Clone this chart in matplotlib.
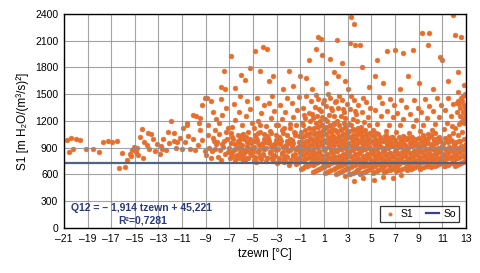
import matplotlib
matplotlib.use("Agg")
import matplotlib.pyplot as plt
import numpy as np

plt.rcParams['font.family'] = ['Liberation Sans Narrow', 'Liberation Sans', 'DejaVu Sans']

# --- S1 points: t_zewn [degC], S1 [m H2O/(m3/s)2] ---
cold_t = [-20.7, -20.4, -20.0, -19.6, -20.6, -20.2, -19.1, -18.5, -18.0, -17.7,
          -17.3, -16.9, -16.5, -16.1, -16.3, -15.8, -15.7, -15.4, -15.2, -15.0,
          -14.9, -14.7, -14.6, -14.4, -14.2, -14.0, -13.8, -13.6, -13.3, -13.1,
          -12.8, -12.6, -12.4, -12.1, -11.9, -11.7, -11.5, -11.2, -11.0, -10.8,
          -10.6, -10.3, -10.1, -9.9, -9.7, -9.5, -9.3, -9.1, -15.3, -14.8,
          -13.9, -12.9, -12.2, -11.4, -10.5, -9.8, -15.1, -14.3, -13.5, -12.7,
          -10.1, -9.5, -10.6, -11.7, -9.1, -9.3, -10.9, -9.6]
cold_v = [990, 1010, 1000, 990, 855, 880, 890, 885, 850, 965,
          980, 965, 975, 845, 675, 685, 760, 830, 870, 900,
          850, 820, 1025, 1110, 960, 930, 880, 1050, 860, 940,
          920, 1000, 870, 950, 1200, 980, 900, 1010, 890, 960,
          1150, 880, 1000, 870, 930, 1100, 990, 860, 805, 895,
          1060, 830, 1080, 960, 1030, 1250, 910, 780, 1000, 880,
          1267, 1233, 1177, 1065, 1457, 1380, 1120, 1180]

band_t = [-8.95, -8.7, -8.5, -8.3, -8.1, -8.85, -8.6, -8.4, -8.2, -8.05,
          -7.95, -7.8, -7.6, -7.4, -7.2, -7.05, -7.9, -7.7, -7.5, -7.3, -7.15, -7.55,
          -6.95, -6.75, -6.55, -6.35, -6.15, -6.9, -6.7, -6.5, -6.3, -6.1, -6.85, -6.45, -6.25, -6.05,
          -5.95, -5.75, -5.55, -5.35, -5.15, -5.9, -5.7, -5.5, -5.3, -5.1, -5.85, -5.65, -5.45, -5.25, -5.05, -5.6,
          -4.95, -4.8, -4.6, -4.4, -4.2, -4.05, -4.9, -4.7, -4.5, -4.3, -4.1, -4.85, -4.65, -4.45, -4.25, -4.15, -4.55, -4.75,
          -3.95, -3.8, -3.6, -3.4, -3.2, -3.05, -3.9, -3.7, -3.5, -3.3, -3.1, -3.85, -3.65, -3.45, -3.25, -3.15, -3.55, -3.75,
          -2.95, -2.8, -2.6, -2.4, -2.2, -2.05, -2.9, -2.7, -2.5, -2.3, -2.1, -2.85, -2.65, -2.45, -2.25, -2.15, -2.55, -2.75, -2.35, -2.0,
          -1.95, -1.8, -1.6, -1.4, -1.2, -1.05, -1.9, -1.7, -1.5, -1.3, -1.1, -1.85, -1.65, -1.45, -1.25, -1.15, -1.55, -1.75, -1.35, -1.0, -1.9, -1.5,
          -6.85, -6.6, -6.4, -6.2, -6.05, -6.75, -6.5, -6.3, -6.1, -6.9,
          -5.85, -5.6, -5.4, -5.2, -5.05, -5.75, -5.5, -5.3, -5.1, -5.95,
          -4.85, -4.6, -4.4, -4.2, -4.05, -4.75, -4.5, -4.3, -4.1, -4.95,
          -3.85, -3.6, -3.4, -3.2, -3.05, -3.75, -3.5, -3.3, -3.1, -3.95,
          -2.85, -2.6, -2.4, -2.2, -2.05, -2.75, -2.5, -2.3, -2.1, -2.95,
          -1.85, -1.6, -1.4, -1.2, -1.05, -1.75, -1.5, -1.3, -1.1, -1.95]
band_v = [820, 900, 860, 980, 940, 1040, 790, 1010, 880, 960,
          800, 870, 940, 830, 1000, 900, 1050, 760, 980, 1080, 850, 910,
          780, 830, 760, 900, 850, 950, 1000, 880, 1040, 930, 1060, 800, 980, 820,
          770, 840, 790, 880, 820, 930, 870, 960, 1000, 900, 1050, 760, 1080, 990, 850, 1020,
          760, 800, 850, 780, 830, 880, 910, 960, 870, 940, 1000, 1040, 990, 1080, 920, 820, 1060, 740,
          750, 790, 840, 770, 820, 870, 900, 950, 860, 930, 990, 1030, 980, 1070, 910, 810, 1090, 1010,
          730, 780, 830, 760, 810, 860, 890, 940, 850, 920, 980, 1020, 970, 1060, 900, 800, 1100, 1000, 740, 950,
          710, 760, 810, 740, 790, 840, 870, 920, 830, 900, 960, 1000, 950, 1040, 880, 780, 1080, 980, 720, 930, 1120, 1060,
          800, 870, 820, 960, 900, 1020, 940, 790, 1000, 850,
          800, 860, 780, 950, 890, 1000, 920, 840, 980, 1040,
          790, 860, 810, 950, 890, 1010, 930, 770, 1050, 980,
          780, 850, 800, 940, 880, 1000, 920, 760, 1040, 960,
          760, 840, 790, 930, 870, 990, 910, 750, 1040, 950,
          740, 820, 770, 910, 860, 990, 890, 730, 1030, 950]

core_t = [-0.96, -0.63, -0.3, -0.07, -0.82, -0.48, -0.15, -0.91, -0.56, -0.24, -0.73, -0.39, -0.04,
          -0.87, -0.51, -0.18, -0.68, -0.33, -0.99, -0.6, -0.27, -0.78, -0.43, -0.11, -0.89, -0.54,
          0.04, 0.37, 0.70, 0.93, 0.18, 0.52, 0.85, 0.09, 0.44, 0.76, 0.27, 0.61, 0.96, 0.13, 0.49,
          0.82, 0.32, 0.67, 0.01, 0.40, 0.73, 0.22, 0.57, 0.89, 0.11, 0.46, 0.79, 0.29, 0.64, 0.97,
          1.10, 1.45, 1.80, 1.02, 1.30, 1.62, 1.91, 1.16, 1.51, 1.86, 1.24, 1.58, 1.94, 1.07, 1.39,
          1.72, 1.19, 1.55, 1.88, 1.34, 1.69, 1.03, 1.42, 1.77, 1.14, 1.48, 1.83, 1.26, 1.60, 1.95,
          2.04, 2.37, 2.70, 2.93, 2.18, 2.52, 2.85, 2.09, 2.44, 2.76, 2.27, 2.61, 2.96, 2.13, 2.49,
          2.82, 2.32, 2.67, 2.01, 2.40, 2.73, 2.22, 2.57, 2.89, 2.11, 2.46, 2.79, 2.29, 2.64, 2.97,
          3.10, 3.45, 3.80, 3.02, 3.30, 3.62, 3.91, 3.16, 3.51, 3.86, 3.24, 3.58, 3.94, 3.07, 3.39,
          3.72, 3.19, 3.55, 3.88, 3.34, 3.69, 3.03, 3.42, 3.77, 3.14, 3.48, 3.83, 3.26, 3.60, 3.95,
          4.04, 4.37, 4.70, 4.93, 4.18, 4.52, 4.85, 4.09, 4.44, 4.76, 4.27, 4.61, 4.96, 4.13,
          4.49, 4.82, 4.32, 4.67, 4.01, 4.40, 4.73, 4.22, 4.57, 4.89, 4.11, 4.46, 4.79, 4.29,
          5.10, 5.45, 5.80, 5.02, 5.30, 5.62, 5.91, 5.16, 5.51, 5.86, 5.24, 5.58, 5.94,
          5.07, 5.39, 5.72, 5.19, 5.55, 5.88, 5.34, 5.69, 5.03, 5.42, 5.77, 5.14, 5.48,
          6.04, 6.37, 6.70, 6.93, 6.18, 6.52, 6.85, 6.09, 6.44, 6.76, 6.27, 6.61, 6.96,
          6.13, 6.49, 6.82, 6.32, 6.67, 6.01, 6.40, 6.73, 6.22, 6.57, 6.89, 6.11, 6.46,
          7.10, 7.45, 7.80, 7.02, 7.30, 7.62, 7.91, 7.16, 7.51, 7.86, 7.24, 7.58, 7.94,
          7.07, 7.39, 7.72, 7.19, 7.55, 7.88, 7.34, 7.69, 7.03, 7.42, 7.77, 7.14, 7.48,
          8.04, 8.37, 8.70, 8.93, 8.18, 8.52, 8.85, 8.09, 8.44, 8.76, 8.27, 8.61, 8.96,
          8.13, 8.49, 8.82, 8.32, 8.67, 8.01, 8.40, 8.73, 8.22, 8.57, 8.89, 8.11, 8.46,
          9.10, 9.45, 9.80, 9.02, 9.30, 9.62, 9.91, 9.16, 9.51, 9.86, 9.24, 9.58,
          9.94, 9.07, 9.39, 9.72, 9.19, 9.55, 9.88, 9.34, 9.69, 9.03, 9.42, 9.77,
          10.04, 10.37, 10.70, 10.93, 10.18, 10.52, 10.85, 10.09, 10.44, 10.76, 10.27,
          10.61, 10.96, 10.13, 10.49, 10.82, 10.32, 10.67, 10.01, 10.40, 10.73, 10.22,
          11.10, 11.45, 11.80, 11.02, 11.30, 11.62, 11.91, 11.16, 11.51, 11.86,
          11.24, 11.58, 11.94, 11.07, 11.39, 11.72, 11.19, 11.55, 11.88, 11.34,
          12.04, 12.37, 12.70, 12.93, 12.18, 12.52, 12.85, 12.09, 12.44,
          12.76, 12.27, 12.61, 12.96, 12.13, 12.49, 12.82, 12.32, 12.67]
core_v = [660, 690, 710, 740, 760, 780, 800, 825, 850, 870, 890, 915, 940,
          960, 980, 1005, 1030, 1055, 1080, 1100, 1125, 1150, 700, 820, 930, 1040,
          630, 650, 670, 700, 720, 740, 760, 780, 800, 820, 840, 860, 880, 900, 920,
          940, 960, 980, 1000, 1020, 1040, 1060, 1080, 1100, 1120, 1140, 1160, 1180, 1200, 690,
          615, 640, 660, 685, 705, 725, 745, 770, 790, 810, 830, 855, 875, 895, 915,
          940, 960, 980, 1000, 1025, 1045, 1065, 1090, 1110, 1130, 1150, 1175, 1200, 880, 760,
          600, 625, 650, 670, 690, 710, 730, 750, 770, 790, 810, 830, 850, 870, 890,
          910, 930, 950, 970, 990, 1010, 1030, 1050, 1070, 1090, 1110, 1130, 1150, 1180, 820,
          600, 620, 645, 665, 685, 705, 725, 745, 765, 785, 805, 825, 845, 865, 885,
          905, 925, 945, 965, 985, 1005, 1025, 1045, 1065, 1085, 1105, 1125, 1150, 760, 900,
          610, 630, 650, 670, 690, 710, 730, 750, 770, 790, 810, 830, 850, 870,
          890, 910, 930, 950, 970, 990, 1010, 1030, 1050, 1070, 1090, 1100, 700, 880,
          620, 640, 660, 680, 700, 720, 740, 760, 780, 800, 820, 840, 860,
          880, 900, 920, 940, 960, 980, 1000, 1020, 1040, 1060, 700, 850, 950,
          630, 645, 665, 685, 705, 725, 745, 765, 785, 805, 825, 845, 865,
          885, 905, 925, 945, 965, 985, 1005, 1025, 1040, 690, 810, 900, 980,
          640, 655, 675, 695, 715, 735, 755, 775, 795, 815, 835, 855, 875,
          895, 915, 935, 955, 975, 995, 1015, 1030, 700, 760, 870, 940, 1000,
          650, 665, 685, 705, 725, 745, 765, 785, 805, 825, 845, 865, 885,
          905, 925, 945, 965, 985, 1005, 1020, 700, 780, 860, 940, 1010, 680,
          660, 680, 700, 720, 740, 760, 780, 800, 820, 840, 860, 880,
          900, 920, 940, 960, 980, 1000, 1020, 1040, 720, 850, 930, 1010,
          680, 700, 720, 740, 760, 780, 800, 820, 840, 860, 880,
          900, 920, 940, 960, 980, 1000, 1020, 1040, 1060, 750, 910,
          690, 710, 730, 750, 770, 790, 810, 830, 850, 870,
          890, 910, 930, 950, 970, 990, 1010, 1030, 1060, 800,
          700, 720, 740, 760, 780, 800, 820, 840, 860,
          880, 900, 920, 940, 960, 980, 1000, 1040, 1080]

# second layer of the dense cloud (points lying between the first layer)
core2_t = [-0.8, -0.45, -0.12, -0.95, -0.62, -0.28, -0.76, -0.41, -0.06, -0.9, -0.57, -0.22, -0.7, -0.35, -0.02, -0.84, -0.5, -0.17,
           0.2, 0.55, 0.88, 0.06, 0.35, 0.7, 0.15, 0.48, 0.82, 0.25, 0.6, 0.95, 0.1, 0.42, 0.78, 0.3, 0.65, 0.02, 0.38, 0.74, 0.18, 0.52, 0.9, 0.08, 0.45, 0.8,
           1.22, 1.57, 1.9, 1.05, 1.37, 1.72, 1.13, 1.5, 1.84, 1.27, 1.63, 1.97, 1.09, 1.44, 1.8, 1.32, 1.67, 1.01, 1.4, 1.75, 1.2, 1.54, 1.92, 1.06, 1.47, 1.82,
           2.2, 2.55, 2.88, 2.06, 2.35, 2.7, 2.15, 2.48, 2.82, 2.25, 2.6, 2.95, 2.1, 2.42, 2.78, 2.3, 2.65, 2.02, 2.38, 2.74, 2.18, 2.52, 2.9, 2.08, 2.45, 2.8,
           3.22, 3.57, 3.9, 3.05, 3.37, 3.72, 3.13, 3.5, 3.84, 3.27, 3.63, 3.97, 3.09, 3.44, 3.8, 3.32, 3.67, 3.01, 3.4, 3.75, 3.2, 3.54, 3.92, 3.06, 3.47, 3.82,
           4.2, 4.55, 4.88, 4.06, 4.35, 4.7, 4.15, 4.48, 4.82, 4.25, 4.6, 4.95, 4.1, 4.42, 4.78, 4.3, 4.65, 4.02, 4.38, 4.74, 4.18, 4.52, 4.9, 4.08,
           5.22, 5.57, 5.9, 5.05, 5.37, 5.72, 5.13, 5.5, 5.84, 5.27, 5.63, 5.97, 5.09, 5.44, 5.8, 5.32, 5.67, 5.01, 5.4, 5.75, 5.2, 5.54,
           6.2, 6.55, 6.88, 6.06, 6.35, 6.7, 6.15, 6.48, 6.82, 6.25, 6.6, 6.95, 6.1, 6.42, 6.78, 6.3, 6.65, 6.02, 6.38, 6.74, 6.18, 6.52,
           7.22, 7.57, 7.9, 7.05, 7.37, 7.72, 7.13, 7.5, 7.84, 7.27, 7.63, 7.97, 7.09, 7.44, 7.8, 7.32, 7.67, 7.01, 7.4, 7.75, 7.2, 7.54,
           8.2, 8.55, 8.88, 8.06, 8.35, 8.7, 8.15, 8.48, 8.82, 8.25, 8.6, 8.95, 8.1, 8.42, 8.78, 8.3, 8.65, 8.02, 8.38, 8.74, 8.18, 8.52,
           9.22, 9.57, 9.9, 9.05, 9.37, 9.72, 9.13, 9.5, 9.84, 9.27, 9.63, 9.97, 9.09, 9.44, 9.8, 9.32, 9.67, 9.01, 9.4, 9.75,
           10.2, 10.55, 10.88, 10.06, 10.35, 10.7, 10.15, 10.48, 10.82, 10.25, 10.6, 10.95, 10.1, 10.42, 10.78, 10.3, 10.65, 10.02,
           11.22, 11.57, 11.9, 11.05, 11.37, 11.72, 11.13, 11.5, 11.84, 11.27, 11.63, 11.97, 11.09, 11.44, 11.8, 11.32,
           12.2, 12.55, 12.88, 12.06, 12.35, 12.7, 12.15, 12.48, 12.82, 12.25, 12.6, 12.95, 12.1, 12.42]
core2_v = [675, 700, 725, 750, 770, 795, 815, 840, 860, 880, 905, 930, 950, 970, 995, 1020, 1045, 1070,
           640, 660, 685, 705, 730, 750, 770, 790, 810, 830, 850, 870, 890, 910, 930, 950, 970, 990, 1010, 1030, 1050, 1070, 1090, 1110, 1130, 1160,
           625, 650, 672, 695, 715, 735, 758, 780, 800, 820, 842, 865, 885, 905, 928, 950, 970, 990, 1012, 1035, 1055, 1078, 1100, 1120, 1140, 1165,
           612, 638, 660, 680, 700, 720, 740, 760, 780, 800, 820, 840, 860, 880, 900, 920, 940, 960, 980, 1000, 1020, 1040, 1060, 1080, 1100, 1120,
           610, 632, 655, 675, 695, 715, 735, 755, 775, 795, 815, 835, 855, 875, 895, 915, 935, 955, 975, 995, 1015, 1035, 1055, 1075, 1095, 1115,
           620, 640, 660, 680, 700, 720, 740, 760, 780, 800, 820, 840, 860, 880, 900, 920, 940, 960, 980, 1000, 1020, 1040, 1060, 1080,
           630, 650, 670, 690, 710, 730, 750, 770, 790, 810, 830, 850, 870, 890, 910, 930, 950, 970, 990, 1010, 1030, 1050,
           638, 655, 675, 695, 715, 735, 755, 775, 795, 815, 835, 855, 875, 895, 915, 935, 955, 975, 995, 1015, 1030, 1010,
           648, 665, 685, 705, 725, 745, 765, 785, 805, 825, 845, 865, 885, 905, 925, 945, 965, 985, 1005, 1020, 680, 990,
           658, 675, 695, 715, 735, 755, 775, 795, 815, 835, 855, 875, 895, 915, 935, 955, 975, 995, 1012, 1000, 690, 970,
           670, 690, 710, 730, 750, 770, 790, 810, 830, 850, 870, 890, 910, 930, 950, 970, 990, 1010, 1030, 1050,
           690, 710, 730, 750, 770, 790, 810, 830, 850, 870, 890, 910, 930, 950, 970, 990, 1010, 1030,
           700, 720, 740, 760, 780, 800, 820, 840, 860, 880, 900, 920, 940, 960, 980, 1000,
           710, 730, 750, 770, 790, 810, 830, 850, 870, 890, 910, 930, 950, 970]

upper_t = [-8.8, -8.4, -8.1, -8.6, -8.2, -7.9, -7.6, -7.3, -7.7, -7.1, -7.4,
           -6.8, -6.5, -6.2, -6.6, -6.1, -5.9, -5.6, -5.3, -5.1, -5.5,
           -4.9, -4.6, -4.3, -4.1, -4.7, -4.4, -3.9, -3.5, -3.2, -3.7, -3.1, -3.4,
           -2.9, -2.6, -2.3, -2.7, -2.1, -2.4, -1.9, -1.6, -1.3, -1.7, -1.1, -1.4,
           -0.9, -0.6, -0.3, -0.8, -0.1, -0.5, -0.2, -0.7,
           0.1, 0.4, 0.7, 0.2, 0.9, 0.5, 0.3, 0.8, 0.6, 0.0,
           1.1, 1.4, 1.7, 1.2, 1.9, 1.5, 1.3, 1.8, 1.6, 1.0,
           2.1, 2.4, 2.7, 2.2, 2.9, 2.5, 2.3, 2.8, 2.6, 2.0,
           3.1, 3.4, 3.7, 3.2, 3.9, 3.5, 3.3, 3.8, 3.6,
           4.1, 4.4, 4.7, 4.2, 4.9, 4.5, 4.3, 4.8,
           5.1, 5.5, 5.8, 5.3, 5.9, 5.6, 6.2, 6.5, 6.8, 6.3, 6.9, 6.6,
           7.1, 7.4, 7.7, 7.2, 7.9, 7.5, 8.2, 8.5, 8.8, 8.3, 8.9, 8.6,
           9.1, 9.4, 9.7, 9.2, 9.9, 9.5, 10.1, 10.4, 10.7, 10.2, 10.9, 10.5,
           11.1, 11.4, 11.7, 11.2, 11.9, 11.5, 11.8,
           12.1, 12.4, 12.7, 12.9, 12.2, 12.5, 12.8, 12.3, 12.6, 12.95, 12.45, 12.85, 12.65, 12.35,
           12.55, 12.75, 12.9, 12.4, 12.7, 12.2]
upper_v = [1150, 1300, 1220, 1420, 1100, 1180, 1270, 1350, 1450, 1120, 1560,
           1130, 1210, 1300, 1390, 1480, 1150, 1250, 1330, 1180, 1420,
           1120, 1200, 1290, 1380, 1460, 1150, 1140, 1230, 1310, 1400, 1160, 1480,
           1150, 1220, 1300, 1380, 1460, 1120, 1170, 1240, 1320, 1400, 1470, 1150,
           1180, 1230, 1290, 1350, 1420, 1480, 1200, 1270,
           1230, 1260, 1310, 1360, 1400, 1450, 1490, 1240, 1330, 1280,
           1220, 1270, 1320, 1370, 1410, 1460, 1500, 1250, 1340, 1430,
           1200, 1250, 1300, 1350, 1390, 1440, 1480, 1230, 1330, 1420,
           1170, 1220, 1280, 1330, 1380, 1430, 1480, 1200, 1310,
           1130, 1190, 1240, 1300, 1350, 1410, 1460, 1160,
           1100, 1170, 1250, 1320, 1400, 1470, 1090, 1160, 1240, 1310, 1380, 1450,
           1080, 1150, 1220, 1290, 1360, 1440, 1070, 1140, 1210, 1280, 1350, 1430,
           1090, 1160, 1230, 1300, 1370, 1450, 1100, 1170, 1240, 1310, 1380, 1460,
           1110, 1180, 1250, 1320, 1390, 1460, 1140,
           1120, 1170, 1220, 1260, 1300, 1340, 1380, 1420, 1460, 1500, 1250, 1180, 1420, 1530,
           1190, 1300, 1350, 1390, 1480, 1400]

high_t = [-8.9, -7.7, -7.5, -6.9, -6.0, -5.7, -5.3, -4.8, -4.2, -3.8, -4.4, -3.7, -3.3,
          -2.0, -1.6, -0.3, 0.5, 0.3, 0.8, -0.5, 0.7, 3.3, 3.5, 2.1, 3.2, 3.6,
          9.3, 9.9, 11.9, 12.1, 12.6, 9.8, 10.8, 11.0, 6.3, 7.0, 7.7, 8.5,
          -2.5, -1.0, 1.2, 1.8, 2.5, 2.8, 4.2, 4.8, 5.3, 6.0, 7.4, 8.1, 9.0,
          10.2, 11.5, 12.3, 12.8, 1.5, 4.0, 5.5, 0.0, -6.5, 3.0, 2.2]
high_v = [1454, 1577, 1760, 1932, 1715, 1659, 1794, 1985, 2033, 2003, 1764, 1648, 1707,
          1760, 1592, 1883, 2141, 2006, 1939, 1681, 2120, 2370, 2287, 2107, 2073, 2051,
          2182, 2186, 2383, 2163, 2145, 2051, 1921, 1883, 1980, 1996, 1962, 1996,
          1560, 1700, 1620, 1750, 1850, 1650, 1800, 1580, 1700, 1620, 1560, 1700, 1620,
          1560, 1650, 1750, 1600, 1900, 2050, 1880, 1560, 1570, 1560, 1700]

low_t = [3.5, 4.3, 5.2, 6.0, 6.8, 2.8, 7.5]
low_v = [530, 560, 540, 575, 555, 580, 590]

so_level = 730
x_ticks = list(range(-21, 14, 2))
y_ticks = list(range(0, 2401, 300))

s1_t = cold_t + band_t + core_t + core2_t + upper_t + high_t + low_t
s1_v = cold_v + band_v + core_v + core2_v + upper_v + high_v + low_v

fig = plt.figure(figsize=(4.8, 2.73), dpi=100)
ax = fig.add_axes([0.133, 0.165, 0.838, 0.784])

ax.scatter(s1_t, s1_v, s=12, facecolor='#f06a20', edgecolor='#d27a4c',
           linewidth=0.4, zorder=2, label='S1')
ax.axhline(so_level, color='#4d6482', lw=1.6, zorder=4, label='So')

ax.set_xlim(-21, 13)
ax.set_ylim(0, 2400)
ax.set_xticks(x_ticks)
ax.set_xticklabels([('\u2013%d' % -v) if v < 0 else str(v) for v in x_ticks])
ax.set_yticks(y_ticks)
ax.tick_params(length=0, labelsize=7.5, pad=4)
# grid lines show through the dense cloud in the original
ax.grid(True, color='#8c8c8c', lw=0.8, alpha=0.8, zorder=3)
ax.set_axisbelow(False)
for sp in ax.spines.values():
    sp.set_color('black')
    sp.set_linewidth(1.0)
    sp.set_zorder(5)

ax.set_xlabel('tzewn [°C]', fontsize=8.5, labelpad=3)
ax.set_ylabel('S1 [m H₂O/(m³/s)²]', fontsize=8.5, labelpad=4)

ax.text(-20.4, 185, 'Q12 = \u2013 1,914 tzewn + 45,221', color='#2b3a7e',
        fontsize=7.5, fontweight='bold', zorder=5)
ax.text(-16.4, 50, 'R²=0,7281', color='#2b3a7e',
        fontsize=7.5, fontweight='bold', zorder=5)

leg = ax.legend(loc='lower right', ncol=2, fontsize=7.5, frameon=True,
                fancybox=False, borderpad=0.3, handlelength=1.3,
                columnspacing=1.2, handletextpad=0.4, markerscale=0.7,
                borderaxespad=0, bbox_to_anchor=(0.983, 0.028))
leg.get_frame().set_edgecolor('black')
leg.get_frame().set_linewidth(0.9)
leg.set_zorder(6)
leg.legend_handles[1].set_color('#3a3f8f')

fig.savefig('out.png', dpi=100)
